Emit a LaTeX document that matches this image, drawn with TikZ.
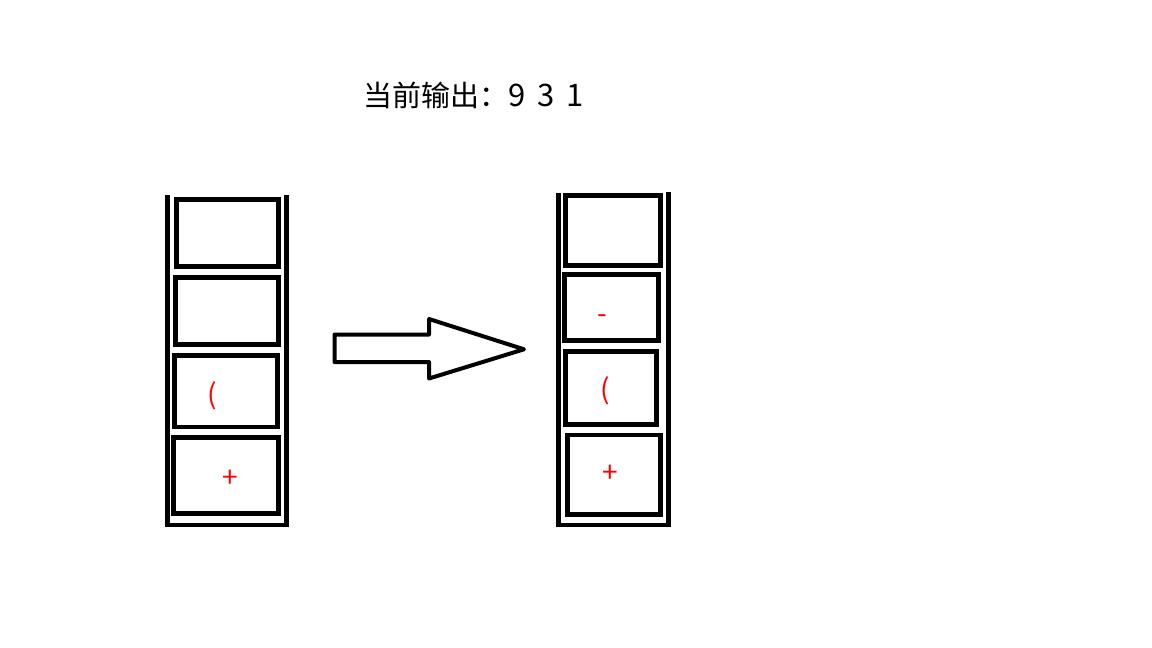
\documentclass[tikz,border=0pt]{standalone}
\usepackage{fontspec}
\newfontfamily\cjk{Noto Sans CJK SC}
\begin{document}
\begin{tikzpicture}[x=1pt,y=-1pt,
  cell/.style={draw=black,line width=4.6pt},
  wall/.style={draw=black,line width=4.6pt,line join=miter},
  sym/.style={text=red,font=\cjk\fontsize{28}{32}\selectfont,inner sep=0pt},
  blockarrow/.style={draw=black,line width=4pt,line join=round}]
\useasboundingbox (0,0) rectangle (1152,648);
% title
\node[anchor=west,inner sep=0pt,font=\cjk\fontsize{29}{34}\selectfont] (title) at (363,95) {当前输出：{\fontsize{31}{34}\selectfont 9\hspace{0.38em}3\hspace{0.38em}1}};
% left stack
\draw[wall] (167.5,195) -- (167.5,525) -- (286.5,525) -- (286.5,195);
\draw[cell] (176.7,199.7) rectangle (278.3,266.7);
\draw[cell] (175.3,277.3) rectangle (278.3,344.3);
\draw[cell] (174.3,355.3) rectangle (277.3,427);
\draw[cell] (173.3,437.3) rectangle (278.3,513.3);
\node[sym] (lparen) at (212.7,396) {(};
\node[sym] (lplus) at (230,479) {+};
% block arrow
\coordinate (a1) at (334.5,334.5);
\coordinate (a2) at (429,334.5);
\coordinate (a3) at (429,319);
\coordinate (a4) at (524,349.3);
\coordinate (a5) at (429,378.5);
\coordinate (a6) at (429,362);
\coordinate (a7) at (334.5,362);
\draw[blockarrow] (a1) -- (a2) -- (a3) -- (a4) -- (a5) -- (a6) -- (a7) -- cycle;
% right stack
\draw[wall] (558.5,193) -- (558.5,525) -- (668.3,525) -- (668.3,192);
\draw[cell] (565.7,195.7) rectangle (660.3,265.3);
\draw[cell] (564.3,274.7) rectangle (658.3,340.3);
\draw[cell] (565.3,351.3) rectangle (656.7,424.7);
\draw[cell] (567.3,435) rectangle (660.3,514.3);
\node[sym] (rminus) at (602.3,319) {-};
\node[sym] (rparen) at (605.7,391) {(};
\node[sym] (rplus) at (610,474) {+};
\end{tikzpicture}
\end{document}
